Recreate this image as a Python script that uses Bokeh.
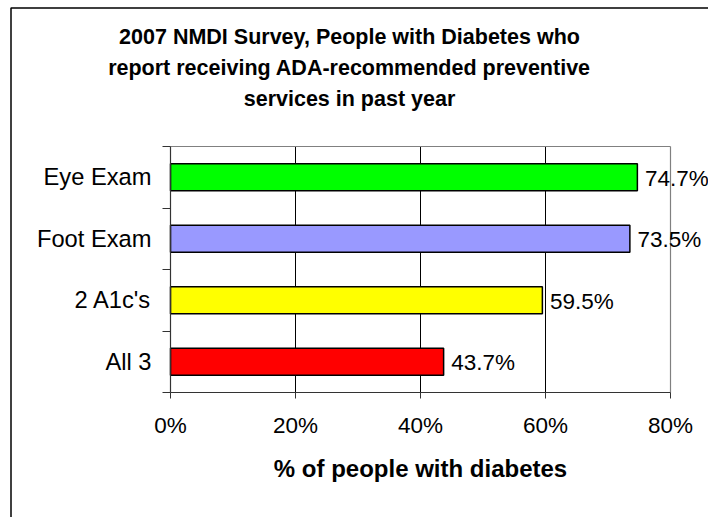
from bokeh.plotting import figure
from bokeh.models import (LinearAxis, FixedTicker, PrintfTickFormatter, Label,
                          LabelSet, ColumnDataSource, BoxAnnotation, Range1d)
from bokeh.core.properties import value
from bokeh.embed import file_html
from bokeh.resources import INLINE

# ---- data ----
categories = ["Eye Exam", "Foot Exam", "2 A1c's", "All 3"]
values = [74.7, 73.5, 59.5, 43.7]
bar_colors = ["#00FF00", "#9999FF", "#FFFF00", "#FF0000"]
x_ticks = [0, 20, 40, 60, 80]
title_lines = ["2007 NMDI Survey, People with Diabetes who",
               "report receiving ADA-recommended preventive",
               "services in past year"]
x_title = "% of people with diabetes"

FONT = "Liberation Sans"
W, H = 708, 517
n = len(categories)
ypos = [n - i for i in range(n)]
value_text = ["%.1f%%" % v for v in values]

# plot-area placement on the canvas (pixels)
PL, PR, PT, PB = 170, 670, 146, 392
x0, x1 = x_ticks[0], x_ticks[-1]
y0, y1 = 0.5, n + 0.5
sx = (PR - PL) / (x1 - x0)
sy = (PB - PT) / (y1 - y0)

p = figure(width=W, height=H, output_backend="svg", toolbar_location=None,
           x_range=Range1d(x0 - PL / sx, x0 + (W - PL) / sx),
           y_range=Range1d(y0 - (H - PB) / sy, y1 + PT / sy),
           min_border=0, min_border_left=0, min_border_right=0,
           min_border_top=0, min_border_bottom=0,
           background_fill_color="white", border_fill_color="white")
p.outline_line_color = None
p.xgrid.visible = False
p.ygrid.visible = False

src = ColumnDataSource(dict(y=ypos, v=values, c=bar_colors, t=value_text))

# grid lines at x ticks (inner black, the last one grey as the plot-area edge)
inner = x_ticks[1:-1]
p.segment(x0=inner, y0=[y0] * len(inner), x1=inner, y1=[y1] * len(inner),
          line_color="black", line_width=1)
p.segment(x0=[x0, x1], y0=[y1, y0], x1=[x1, x1], y1=[y1, y1],
          line_color="#808080", line_width=1.2)

p.hbar(y="y", left=0, right="v", height=0.435, fill_color="c", line_color="black",
       line_width=1.5, source=src)

# x axis
xa = p.xaxis[0]
xa.fixed_location = y0
xa.bounds = (x0, x1)
xa.ticker = FixedTicker(ticks=x_ticks)
xa.formatter = PrintfTickFormatter(format="%d%%")
xa.major_tick_out = 6
xa.major_tick_in = 0
xa.minor_tick_out = 0
xa.minor_tick_in = 0
xa.axis_line_color = "#333333"
xa.axis_line_width = 1.2
xa.major_tick_line_color = "#333333"
xa.major_label_text_font = FONT
xa.major_label_text_font_size = "22.5px"
xa.major_label_text_color = "black"
xa.major_label_standoff = 14
xa.axis_label = x_title
xa.axis_label_text_font = FONT
xa.axis_label_text_font_size = "24px"
xa.axis_label_text_font_style = "bold"
xa.axis_label_text_color = "black"
xa.axis_label_standoff = 14

# y axis: ticks at category boundaries
ya = p.yaxis[0]
ya.fixed_location = x0
ya.bounds = (y0, y1)
ya.ticker = FixedTicker(ticks=[i + 0.5 for i in range(n + 1)])
ya.major_label_overrides = {i + 0.5: "" for i in range(n + 1)}
ya.major_label_text_font_size = "0px"
ya.major_label_standoff = 0
ya.major_tick_out = 8
ya.major_tick_in = 0
ya.minor_tick_out = 0
ya.minor_tick_in = 0
ya.axis_line_color = "#333333"
ya.axis_line_width = 1.2
ya.major_tick_line_color = "#333333"

# y axis: category labels at band centres
yl = LinearAxis(fixed_location=x0, ticker=FixedTicker(ticks=ypos),
                major_label_overrides={y: c for y, c in zip(ypos, categories)},
                major_tick_out=0, major_tick_in=0, minor_tick_out=0, minor_tick_in=0,
                axis_line_color=None, major_label_standoff=19,
                major_label_text_font=FONT, major_label_text_font_size="23.7px",
                major_label_text_color="black")
p.add_layout(yl, "left")

# value labels
p.add_layout(LabelSet(x="v", y="y", text="t", source=src, x_offset=7.5, y_offset=-1,
                      text_baseline="middle", text_font=value(FONT),
                      text_font_size="22.5px", text_color="black"))

# title (screen units: from canvas left / canvas bottom)
baselines = [36, 67, 98]
for line, b in zip(title_lines, baselines):
    p.add_layout(Label(x=349, y=H - b, x_units="screen", y_units="screen",
                       text=line, text_align="center", text_baseline="alphabetic",
                       text_font=FONT, text_font_size="21.5px",
                       text_font_style="bold", text_color="black"))

# outer chart border (left and top visible)
p.add_layout(BoxAnnotation(left=10.5, right=W + 20, top=H - 7.5, bottom=-20,
                           left_units="screen", right_units="screen",
                           top_units="screen", bottom_units="screen",
                           fill_color=None, fill_alpha=0, line_color="black",
                           line_alpha=1.0, line_width=1.5))

open("out.html", "w").write(file_html(p, INLINE))
